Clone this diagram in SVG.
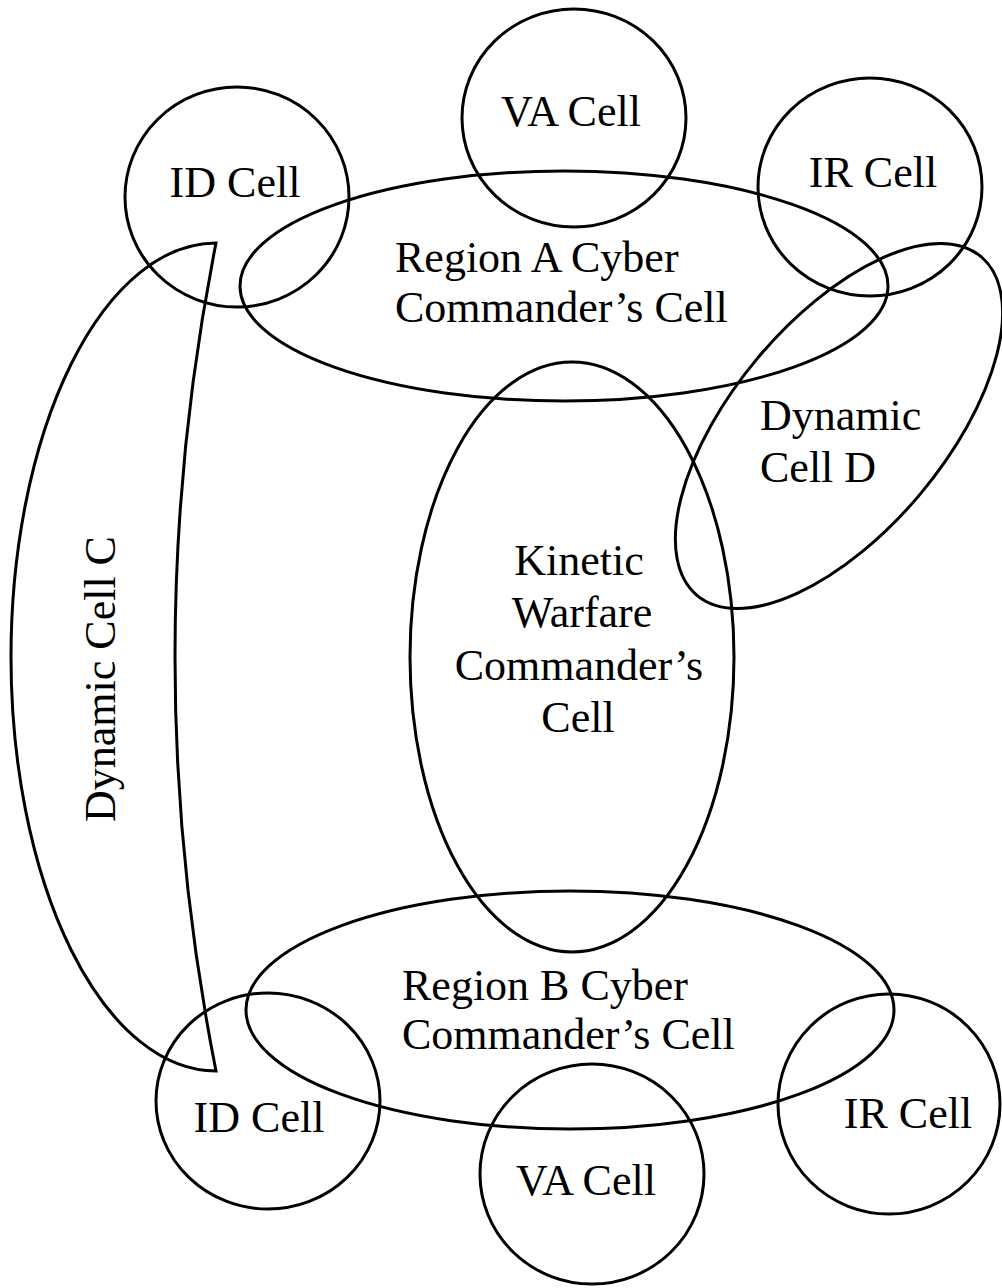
<svg xmlns="http://www.w3.org/2000/svg" width="1002" height="1288" viewBox="0 0 1002 1288">
  <style>
    .shape { fill: none; stroke: #000; stroke-width: 3; }
    .label { font-family: "Liberation Serif", "Times New Roman", serif; font-size: 44px; fill: #000; }
    .mid { text-anchor: middle; }
  </style>
  <rect width="1002" height="1288" fill="#fff"/>

  <!-- Region A group -->
  <g id="region-a">
    <ellipse class="shape" cx="564" cy="286" rx="324" ry="115"/>
    <text class="label" x="395" y="272">Region A Cyber</text>
    <text class="label" x="395" y="322">Commander’s Cell</text>
  </g>
  <g id="va-cell-a">
    <ellipse class="shape" cx="574" cy="118" rx="112" ry="109"/>
    <text class="label mid" x="571" y="126">VA Cell</text>
  </g>
  <g id="id-cell-a">
    <ellipse class="shape" cx="237" cy="197" rx="112" ry="110"/>
    <text class="label mid" x="235" y="197">ID Cell</text>
  </g>
  <g id="ir-cell-a">
    <ellipse class="shape" cx="870" cy="187" rx="112" ry="109"/>
    <text class="label mid" x="873" y="187">IR Cell</text>
  </g>

  <!-- Dynamic cell D -->
  <g id="dynamic-cell-d">
    <ellipse class="shape" cx="839" cy="426" rx="221" ry="106" transform="rotate(-50 839 426)"/>
    <text class="label" x="760" y="430">Dynamic</text>
    <text class="label" x="760" y="482">Cell D</text>
  </g>

  <!-- Kinetic warfare -->
  <g id="kinetic-warfare">
    <ellipse class="shape" cx="572" cy="657" rx="162" ry="295"/>
    <text class="label mid" x="579" y="575">Kinetic</text>
    <text class="label mid" x="582" y="627">Warfare</text>
    <text class="label mid" x="579" y="680">Commander’s</text>
    <text class="label mid" x="578" y="732">Cell</text>
  </g>

  <!-- Dynamic cell C -->
  <g id="dynamic-cell-c">
    <path class="shape" stroke-linejoin="miter" d="M216,243 A205,414 0 0 0 216,1071 Q134,657 216,243 Z"/>
    <text class="label" transform="translate(115 822) rotate(-90)">Dynamic Cell C</text>
  </g>

  <!-- Region B group -->
  <g id="region-b">
    <ellipse class="shape" cx="570" cy="1010" rx="324" ry="119"/>
    <text class="label" x="402" y="1000">Region B Cyber</text>
    <text class="label" x="402" y="1049">Commander’s Cell</text>
  </g>
  <g id="id-cell-b">
    <ellipse class="shape" cx="268" cy="1101" rx="112" ry="108"/>
    <text class="label mid" x="259" y="1132">ID Cell</text>
  </g>
  <g id="va-cell-b">
    <ellipse class="shape" cx="592" cy="1174" rx="112" ry="110"/>
    <text class="label mid" x="586" y="1195">VA Cell</text>
  </g>
  <g id="ir-cell-b">
    <ellipse class="shape" cx="889" cy="1104" rx="111" ry="110"/>
    <text class="label mid" x="908" y="1128">IR Cell</text>
  </g>

  <g id="connectors"/>
</svg>
